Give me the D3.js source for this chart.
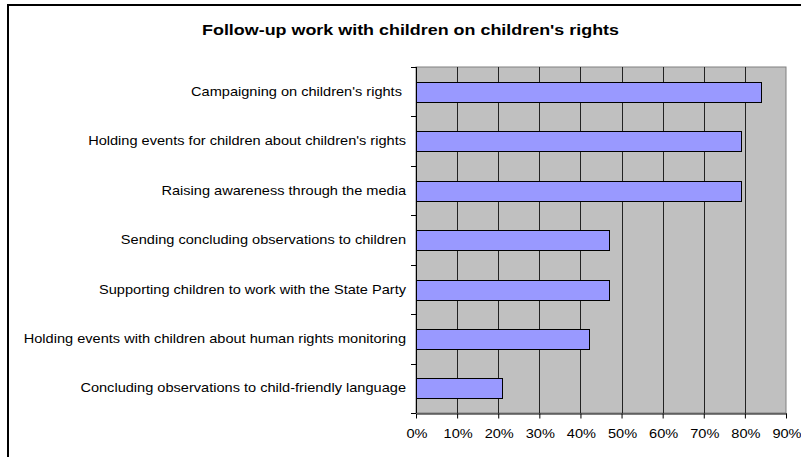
<!DOCTYPE html>
<html>
<head>
<meta charset="utf-8">
<script src="https://cdn.jsdelivr.net/npm/d3@7"></script>
<style>
  html, body { margin: 0; padding: 0; background: #fff; }
  svg { display: block; }
  text { font-family: "Liberation Sans", Arial, sans-serif; fill: #000; white-space: pre; }
</style>
</head>
<body>
<svg id="chart" width="801" height="457"></svg>
<script>
// Follow-up activities and the share of respondents reporting each one
const categories = [
  "Campaigning on children's rights ",
  "Holding events for children about children's rights",
  "Raising awareness through the media",
  "Sending concluding observations to children",
  "Supporting children to work with the State Party",
  "Holding events with children about human rights monitoring",
  "Concluding observations to child-friendly language"
];
const values = [0.84, 0.79, 0.79, 0.47, 0.47, 0.42, 0.21];
const tickValues = [0, 0.1, 0.2, 0.3, 0.4, 0.5, 0.6, 0.7, 0.8, 0.9];
const title = "Follow-up work with children on children's rights";

// The chart's lettering is set wide; each text gets a horizontal stretch
const LABEL_STRETCH = 1.215;
const TITLE_STRETCH = 1.28;

const svg = d3.select("#chart");

// Outer chart frame (runs off the right and bottom edges)
svg.append("rect")
  .attr("x", 8).attr("y", 5)
  .attr("width", 820).attr("height", 480)
  .attr("fill", "#fff")
  .attr("stroke", "#000")
  .attr("stroke-width", 2);

const plot = { left: 416, right: 786, top: 67, bottom: 413 };

const x = d3.scaleLinear().domain([0, 0.9]).range([plot.left, plot.right]);
const y = d3.scaleBand().domain(categories).range([plot.top, plot.bottom]).paddingInner(0.6).paddingOuter(0.3);
const yBand = d3.scaleBand().domain(categories).range([plot.top, plot.bottom]);

// Plot area background
svg.append("rect")
  .attr("x", plot.left).attr("y", plot.top)
  .attr("width", plot.right - plot.left).attr("height", plot.bottom - plot.top)
  .attr("fill", "#c0c0c0")
  .attr("stroke", "#808080")
  .attr("stroke-width", 1);

// Vertical gridlines
svg.append("g")
  .selectAll("line")
  .data(tickValues.slice(1, -1))
  .join("line")
  .attr("x1", d => Math.round(x(d)) + 0.5).attr("x2", d => Math.round(x(d)) + 0.5)
  .attr("y1", plot.top).attr("y2", plot.bottom)
  .attr("stroke", "#222")
  .attr("stroke-width", 1);

// Bars
svg.append("g")
  .selectAll("rect")
  .data(categories)
  .join("rect")
  .attr("x", x(0) + 0.5)
  .attr("y", d => Math.round(y(d)) + 0.5)
  .attr("width", (d, i) => Math.round(x(values[i]) - x(0)))
  .attr("height", Math.round(y.bandwidth()))
  .attr("fill", "#9999ff")
  .attr("stroke", "#000")
  .attr("stroke-width", 1);

// Bottom axis
const xAxis = d3.axisBottom(x)
  .tickValues(tickValues)
  .tickFormat(d3.format(".0%"))
  .tickSizeInner(5).tickSizeOuter(0).tickPadding(11);
const gx = svg.append("g")
  .attr("transform", `translate(0.5,${plot.bottom + 0.5})`)
  .call(xAxis);
gx.select(".domain").attr("stroke", "#000");
gx.selectAll(".tick line").attr("stroke", "#000").attr("transform", "translate(-0.5,0)");
gx.selectAll(".tick text")
  .attr("font-size", 12)
  .attr("font-family", "Liberation Sans, Arial, sans-serif")
  .attr("fill", "#000")
  .attr("transform", `scale(${LABEL_STRETCH},1)`)
  .attr("x", 0);

// Left axis: ticks sit on category boundaries, labels at band centres
const gy = svg.append("g");
gy.append("line")
  .attr("x1", plot.left + 0.5).attr("x2", plot.left + 0.5)
  .attr("y1", plot.top).attr("y2", plot.bottom)
  .attr("stroke", "#000");
const boundaries = categories.map(d => yBand(d)).concat([plot.bottom]);
gy.selectAll("line.tk")
  .data(boundaries)
  .join("line")
  .attr("class", "tk")
  .attr("x1", plot.left - 5).attr("x2", plot.left)
  .attr("y1", d => Math.round(d) + 0.5).attr("y2", d => Math.round(d) + 0.5)
  .attr("stroke", "#000");
gy.selectAll("g.lbl")
  .data(categories)
  .join("g")
  .attr("class", "lbl")
  .attr("transform", d => `translate(${plot.left - 10},${yBand(d) + yBand.bandwidth() / 2}) scale(${LABEL_STRETCH},1)`)
  .append("text")
  .attr("dy", "0.35em")
  .attr("text-anchor", "end")
  .attr("font-size", 12)
  .text(d => d);

// Title
svg.append("g")
  .attr("transform", `translate(410.5,35) scale(${TITLE_STRETCH},1)`)
  .append("text")
  .attr("text-anchor", "middle")
  .attr("font-size", 14)
  .attr("font-weight", "bold")
  .text(title);
</script>
</body>
</html>
